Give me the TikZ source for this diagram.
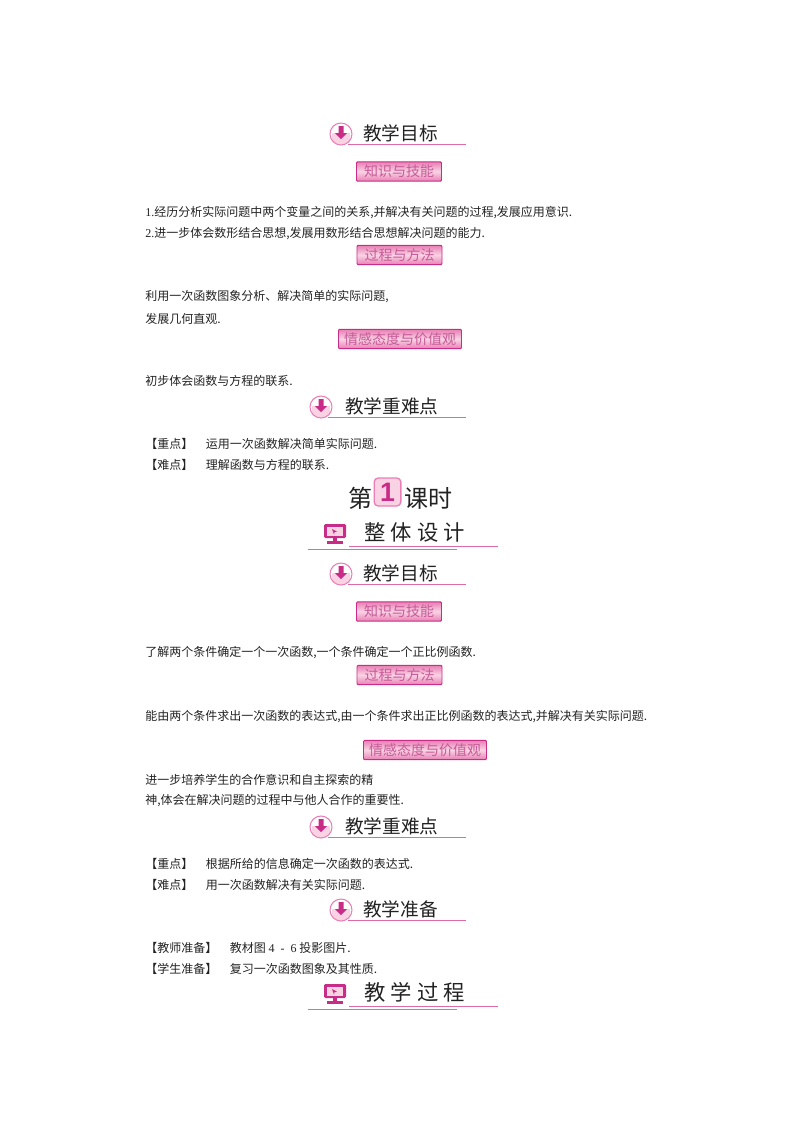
\documentclass[tikz,border=0pt]{standalone}
\usepackage{fontspec}
\setmainfont{Noto Sans CJK SC}
\newfontfamily\latinfont{Liberation Serif}
\newfontfamily\digitfont{Liberation Sans}
\newfontfamily\widefont[LetterSpace=24]{Noto Sans CJK SC}
\definecolor{rosedark}{HTML}{C92C86}
\definecolor{roseline}{HTML}{DE6AA8}
\definecolor{rosemid}{HTML}{E97FB5}
\definecolor{rosepale}{HTML}{F9D3E4}
\definecolor{roseink}{HTML}{C65B98}
\definecolor{inkgray}{HTML}{222222}
\tikzset{
  bodyline/.style={anchor=west,inner sep=0pt,text=inkgray,font=\fontsize{9}{9}\selectfont},
  headtext/.style={anchor=west,inner sep=0pt,text=inkgray,font=\fontsize{14}{14}\selectfont},
  widetext/.style={anchor=west,inner sep=0pt,text=inkgray,font=\widefont\fontsize{16}{16}\selectfont},
  badge/.style={draw=rosedark,line width=.7pt,rounded corners=.8pt,inner sep=0pt,
    minimum height=14.5pt,top color=rosemid,bottom color=rosemid,middle color=rosepale,
    text=roseink,font=\fontsize{10.5}{10.5}\selectfont},
  rule/.style={draw=roseline,line width=.7pt},
  arrowicon/.pic={
    \fill[white] (0,0) circle (11);
    \begin{scope}
      \clip (0,0) circle (11);
      \fill[rosepale] (-9,-1) -- (-5,-1) -- (0,3) -- (5,-1) -- (9,-1) -- (9,12) -- (-9,12) -- cycle;
    \end{scope}
    \draw[rosemid,line width=.8pt] (0,0) circle (11);
    \fill[rosedark] (-2.5,-8) -- (2.5,-8) -- (2.5,-1) -- (6,-1) -- (0,5) -- (-6,-1) -- (-2.5,-1) -- cycle;
  },
  screenicon/.pic={
    \fill[rosedark,rounded corners=1pt] (-11,-9) rectangle (11,5);
    \fill[rosepale] (-8,-6.5) rectangle (8,2.5);
    \fill[rosedark] (-3,-4) -- (2,-1.5) -- (-.5,-.8) -- (-1,1.5) -- cycle;
    \fill[rosedark] (-2,5) rectangle (2,8);
    \fill[rosedark] (-8,8) rectangle (8,11);
  },
}
\begin{document}
\begin{tikzpicture}[x=.75pt,y=-.75pt]
  \useasboundingbox (0,0) rectangle (800,1132);

  % body lines
  \foreach \name/\ypos/\body in {
    la/213/{{\latinfont 1.}经历分析实际问题中两个变量之间的关系,并解决有关问题的过程,发展应用意识.},
    lb/234/{{\latinfont 2.}进一步体会数形结合思想,发展用数形结合思想解决问题的能力.},
    lc/297/{利用一次函数图象分析、解决简单的实际问题,},
    ld/319/{发展几何直观.},
    le/381/{初步体会函数与方程的联系.},
    lf/444/{【重点】\hspace{9.5pt}运用一次函数解决简单实际问题.},
    lg/465/{【难点】\hspace{9.5pt}理解函数与方程的联系.},
    lh/653/{了解两个条件确定一个一次函数,一个条件确定一个正比例函数.},
    li/717/{能由两个条件求出一次函数的表达式,由一个条件求出正比例函数的表达式,并解决有关实际问题.},
    lj/780/{进一步培养学生的合作意识和自主探索的精},
    lk/801/{神,体会在解决问题的过程中与他人合作的重要性.},
    ll/864/{【重点】\hspace{9.5pt}根据所给的信息确定一次函数的表达式.},
    lm/885/{【难点】\hspace{9.5pt}用一次函数解决有关实际问题.},
    ln/948/{【教师准备】\hspace{9.5pt}教材图\hspace{2pt}{\latinfont 4\ \ -\ \ 6}\hspace{2pt}投影图片.},
    lo/969/{【学生准备】\hspace{9.5pt}复习一次函数图象及其性质.}}
    \node[bodyline] (\name) at (145,\ypos) {\body};

  % badges
  \foreach \name/\xpos/\ypos/\wide/\label in {
    ba/399/171.5/85/知识与技能,
    bb/399.5/255/85/过程与方法,
    bc/400/339/123/情感态度与价值观,
    bd/399/611.5/85/知识与技能,
    be/399.5/675/85/过程与方法,
    bf/425/750/123/情感态度与价值观}
    \node[badge,minimum width=\wide*.75pt] (\name) at (\xpos,\ypos) {\label};

  % headings with arrow icon
  \foreach \name/\xpos/\ypos/\gap/\label in {
    ha/341/134/22/教学目标,
    hb/321/407/24/教学重难点,
    hc/341/574/22/教学目标,
    hd/321/827/24/教学重难点,
    he/341/910/22/教学准备}
  {
    \draw[rule] (\xpos+7,\ypos+10) -- (466,\ypos+10);
    \pic at (\xpos,\ypos) {arrowicon};
    \node[headtext] (\name) at (\xpos+\gap,\ypos-1) {\label};
  }

  % headings with screen icon
  \foreach \name/\ypos/\label in {
    wa/533/整体设计,
    wb/993/教学过程}
  {
    \draw[rule] (349,\ypos+13) -- (498,\ypos+13);
    \draw[rule] (308,\ypos+16) -- (457,\ypos+16);
    \pic at (335,\ypos) {screenicon};
    \node[widetext] (\name) at (364,\ypos-1) {\label};
  }

  % lesson title
  \node[inner sep=0pt,text=inkgray,font=\fontsize{18}{18}\selectfont] (first) at (360,498) {第};
  \node[draw=rosemid,fill=rosepale,line width=1pt,rounded corners=3pt,minimum width=20pt,
    minimum height=21pt,inner sep=0pt,text=rosedark,font=\digitfont\bfseries\fontsize{20}{20}\selectfont] (one) at (387.5,492) {1};
  \node[anchor=west,inner sep=0pt,text=inkgray,font=\fontsize{18}{18}\selectfont] (keshi) at (404,498) {课时};
\end{tikzpicture}
\end{document}
